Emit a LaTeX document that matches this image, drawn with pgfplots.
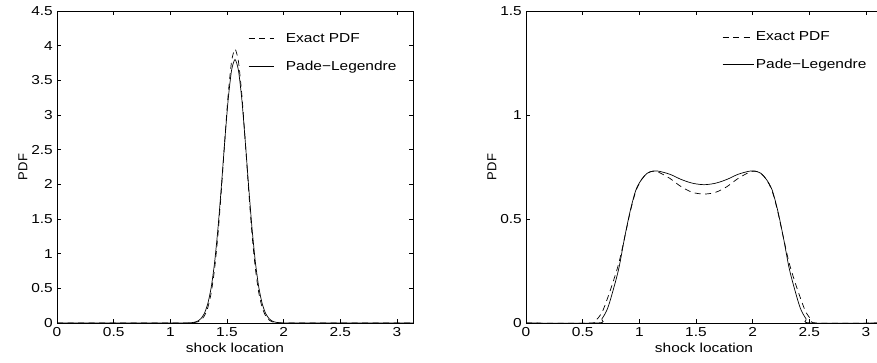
\documentclass[border=0pt]{standalone}
\usepackage{fontspec}
\setmainfont{Liberation Sans}
\usepackage{graphicx}
\usepackage{pgfplots}
\pgfplotsset{compat=1.18}

\newcommand{\myfont}{\fontsize{13}{15}\selectfont}
\pgfplotsset{
  mystyle/.style={
    scale only axis, width=356pt, height=312pt,
    anchor=south west,
    xmin=0, xmax=3.1416, ymin=0,
    xtick={0,0.5,1,1.5,2,2.5,3},
    tick align=inside, major tick length=4pt,
    axis line style={line width=0.8pt},
    every tick/.style={line width=0.6pt, black},
    /pgf/number format/assume math mode=true,
    tick label style={font=\myfont},
    label style={font=\myfont},
    every tick label/.append style={xscale=1.19},
    every x tick label/.append style={yshift=-1pt},
    xlabel={shock location},
    x label style={xscale=1.19, at={(axis description cs:0.5,0)}, anchor=north, yshift=-17pt},
    ylabel={PDF},
    legend style={draw=none, fill=none, inner sep=0pt, anchor=north west,
      cells={anchor=west}, row sep=13pt, font=\myfont},
  },
  dashedline/.style={black, line width=0.7pt, dash pattern=on 6pt off 4.5pt},
  solidline/.style={black, line width=0.7pt},
}

\begin{document}
\begin{tikzpicture}
\begin{axis}[mystyle, at={(57pt,39pt)}, ymax=4.5,
  ytick={0,0.5,1,1.5,2,2.5,3,3.5,4,4.5},
  y label style={at={(axis description cs:0,0.5)}, anchor=south, yshift=26pt},
  legend style={at={(0.5365,0.936)}},
  legend image code/.code={\draw[#1] (0pt,0pt) -- (25pt,0pt);},
  ]
\addplot[dashedline, smooth, tension=0.4] coordinates {
(0,0) (1.0,0) (1.1508,0.0006) (1.1808,0.0020) (1.2108,0.0061) (1.2408,0.0171)
(1.2708,0.0439) (1.3008,0.103) (1.3308,0.222) (1.3608,0.436) (1.3908,0.782)
(1.4208,1.282) (1.4508,1.923) (1.4808,2.635) (1.5108,3.299) (1.5408,3.776)
(1.5708,3.95)
(1.6008,3.776) (1.6308,3.299) (1.6608,2.635) (1.6908,1.923) (1.7208,1.282)
(1.7508,0.782) (1.7808,0.436) (1.8108,0.222) (1.8408,0.103) (1.8708,0.0439)
(1.9008,0.0171) (1.9308,0.0061) (1.9608,0.0020) (1.9908,0.0006) (2.1,0) (3.1416,0)
};
\addlegendentry{\hspace{10pt}\scalebox{1.19}[1]{Exact PDF}}
\addplot[solidline, smooth, tension=0.4] coordinates {
(0,0) (1.0,0) (1.1508,0.0013) (1.1808,0.0038) (1.2108,0.0106) (1.2408,0.0272)
(1.2708,0.0641) (1.3008,0.139) (1.3308,0.279) (1.3608,0.514) (1.3908,0.874)
(1.4208,1.370) (1.4508,1.978) (1.4808,2.632) (1.5108,3.228) (1.5408,3.648)
(1.5708,3.8)
(1.6008,3.648) (1.6308,3.228) (1.6608,2.632) (1.6908,1.978) (1.7208,1.370)
(1.7508,0.874) (1.7808,0.514) (1.8108,0.279) (1.8408,0.139) (1.8708,0.0641)
(1.9008,0.0272) (1.9308,0.0106) (1.9608,0.0038) (1.9908,0.0013) (2.1,0) (3.1416,0)
};
\addlegendentry{\hspace{10pt}\scalebox{1.19}[1]{Pade−Legendre}}
\end{axis}

\begin{axis}[mystyle, at={(526pt,39pt)}, ymax=1.5,
  ytick={0,0.5,1,1.5},
  y label style={at={(axis description cs:0,0.5)}, anchor=south, yshift=26pt},
  legend style={at={(0.5506,0.94)}},
  legend image code/.code={\draw[#1] (0pt,0pt) -- (31pt,0pt);},
  ]
\addplot[dashedline, smooth, tension=0.5] coordinates {
(0,0) (0.57,0) (0.62,0.015) (0.67,0.05) (0.72,0.12) (0.77,0.2) (0.82,0.29)
(0.87,0.41) (0.92,0.535) (0.97,0.635) (1.02,0.69) (1.07,0.72) (1.12,0.73)
(1.17,0.725) (1.27,0.695) (1.37,0.655) (1.47,0.628) (1.5708,0.62)
(1.6716,0.628) (1.7716,0.655) (1.8716,0.695) (1.9716,0.725) (2.0216,0.73)
(2.0716,0.72) (2.1216,0.69) (2.1716,0.635) (2.2216,0.535) (2.2716,0.41)
(2.3216,0.29) (2.3716,0.2) (2.4216,0.12) (2.4716,0.05) (2.5216,0.015)
(2.5716,0) (3.1416,0)
};
\addlegendentry{\scalebox{1.19}[1]{Exact PDF}}
\addplot[solidline, smooth, tension=0.5] coordinates {
(0,0) (0.63,0) (0.67,0.02) (0.72,0.07) (0.77,0.16) (0.82,0.265) (0.87,0.41)
(0.92,0.54) (0.97,0.64) (1.02,0.69) (1.07,0.72) (1.12,0.73) (1.17,0.73)
(1.27,0.715) (1.37,0.69) (1.47,0.672) (1.5708,0.665)
(1.6716,0.672) (1.7716,0.69) (1.8716,0.715) (1.9716,0.73) (2.0216,0.73)
(2.0716,0.72) (2.1216,0.69) (2.1716,0.64) (2.2216,0.54) (2.2716,0.41)
(2.3216,0.265) (2.3716,0.16) (2.4216,0.07) (2.4716,0.02) (2.5116,0) (3.1416,0)
};
\addlegendentry{\scalebox{1.19}[1]{Pade−Legendre}}
\end{axis}
\pgfresetboundingbox
\path[use as bounding box] (0pt,0pt) rectangle (877pt,362pt);
\end{tikzpicture}
\end{document}
